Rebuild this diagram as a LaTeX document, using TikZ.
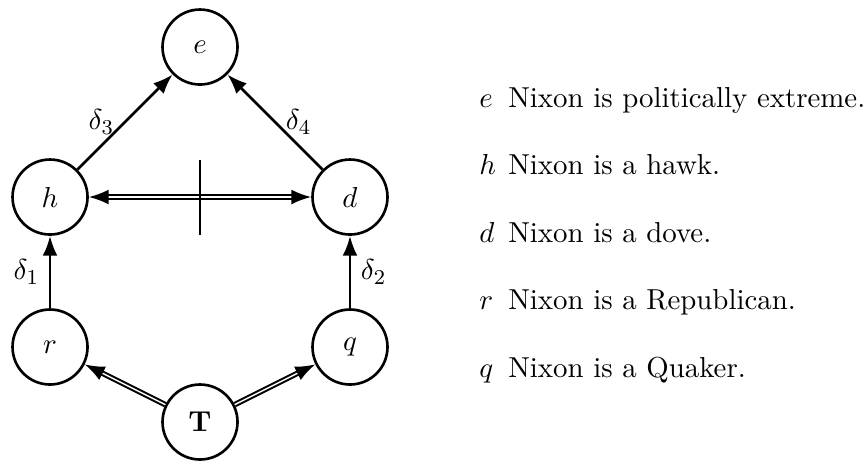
\documentclass[tikz,border=0pt,11pt]{standalone}
\usepackage{amsmath,amssymb}
\usepackage{tikz}
\usetikzlibrary{arrows.meta}

\begin{document}
\begin{tikzpicture}[>=Latex,line width=1pt,
  prop/.style={circle,draw,minimum size=1cm,inner sep=0pt},
  strict/.style={double,line width=0.75pt,double distance=0.55pt}]
\useasboundingbox (-2.667,-0.52) rectangle (8.907,5.627);
\node[prop] (T) at (0,0) {$\mathbf{T}$};
\node[prop] (r) at (-2,1) {$r$};
\node[prop] (q) at (2,1) {$q$};
\node[prop] (h) at (-2,3) {$h$};
\node[prop] (d) at (2,3) {$d$};
\node[prop] (e) at (0,5) {$e$};
\draw[->] (r) -- node[left] {$\delta_1$} (h);
\draw[->] (q) -- node[right] {$\delta_2$} (d);
\draw[->] (h) -- node[left] {$\delta_3$} (e);
\draw[->] (d) -- node[right] {$\delta_4$} (e);
\draw[->,strict] (T) -- (r);
\draw[->,strict] (T) -- (q);
\draw[<->,strict] (h) -- (d);
\coordinate (bartop) at (0,3.5);
\coordinate (barbot) at (0,2.5);
\draw (bartop) -- (barbot);
% legend
\foreach \p/\txt [count=\i from 0] in {e/politically extreme., h/a hawk., d/a dove., r/a Republican., q/a Quaker.}{
  \node[anchor=base west,inner sep=0pt] (sym-\p) at (3.707,4.2-0.9*\i) {$\p$};
  \node[anchor=base west,inner sep=0pt] (leg-\p) at (4.093,4.2-0.9*\i) {Nixon is \txt};
}
\end{tikzpicture}
\end{document}
